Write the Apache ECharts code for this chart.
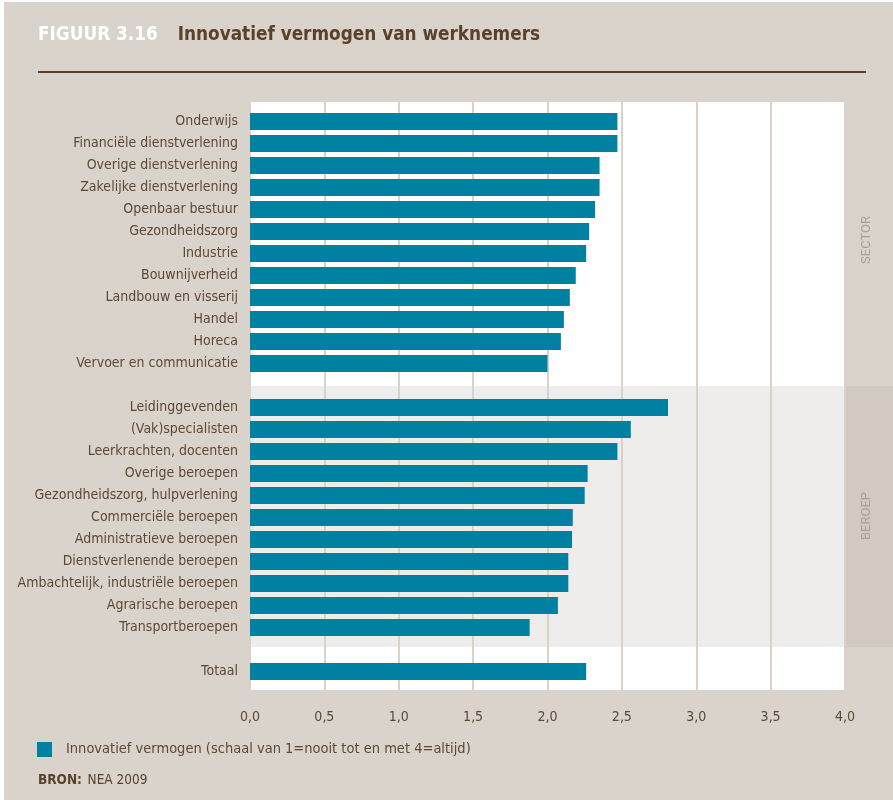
<!DOCTYPE html>
<html>
<head>
<meta charset="utf-8">
<script src="https://cdn.jsdelivr.net/npm/echarts@6/dist/echarts.min.js"></script>
<style>
html,body{margin:0;padding:0;background:#fff;}
#c{width:893px;height:800px;}
</style>
</head>
<body>
<div id="c"></div>
<script>
const sectorCats = ['Onderwijs','Financiële dienstverlening','Overige dienstverlening','Zakelijke dienstverlening','Openbaar bestuur','Gezondheidszorg','Industrie','Bouwnijverheid','Landbouw en visserij','Handel','Horeca','Vervoer en communicatie'];
const sectorVals = [2.47,2.47,2.35,2.35,2.32,2.28,2.26,2.19,2.15,2.11,2.09,2.00];
const beroepCats = ['Leidinggevenden','(Vak)specialisten','Leerkrachten, docenten','Overige beroepen','Gezondheidszorg, hulpverlening','Commerciële beroepen','Administratieve beroepen','Dienstverlenende beroepen','Ambachtelijk, industriële beroepen','Agrarische beroepen','Transportberoepen'];
const beroepVals = [2.81,2.56,2.47,2.27,2.25,2.17,2.165,2.14,2.14,2.07,1.88];
const totaalCats = ['Totaal'];
const totaalVals = [2.26];
const xTicks = [0,0.5,1,1.5,2,2.5,3,3.5,4];
const seriesName = 'Innovatief vermogen (schaal van 1=nooit tot en met 4=altijd)';

const categories = [...sectorCats, ' ', ...beroepCats, '  ', ...totaalCats];
const values = [...sectorVals, null, ...beroepVals, null, ...totaalVals];

const FONT = '"Liberation Sans Narrow","DejaVu Sans Condensed",sans-serif';
const BROWN = '#5c4934';
const TEAL = '#0081a1';
const GRIDC = '#d9d2cb';

const chart = echarts.init(document.getElementById('c'), null, {renderer:'canvas'});
chart.setOption({
  backgroundColor: '#dad3cc',
  animation: false,
  textStyle: {fontFamily: FONT},
  title: [
    {
      left: 38, top: 26, padding: 0,
      text: '{a|FIGUUR 3.16}{b|Innovatief vermogen van werknemers}',
      textStyle: {
        rich: {
          a: {fontFamily: FONT, fontWeight: 'bold', fontSize: 18.8, color: '#ffffff', padding: [0, 20, 0, 0]},
          b: {fontFamily: FONT, fontWeight: 'bold', fontSize: 18.8, color: '#5a4129'}
        }
      }
    },
    {
      left: 38, top: 771, padding: 0,
      text: '{a|BRON:} {b|NEA 2009}',
      textStyle: {
        rich: {
          a: {fontFamily: FONT, fontWeight: 'bold', fontSize: 13.5, color: '#5a4129'},
          b: {fontFamily: FONT, fontWeight: 'normal', fontSize: 13.5, color: '#5a4129'}
        }
      }
    }
  ],
  legend: {
    left: 37, top: 742, padding: 0,
    icon: 'rect', itemWidth: 15, itemHeight: 15,
    data: [seriesName],
    textStyle: {fontFamily: FONT, fontSize: 14.5, color: BROWN, padding: [0, 0, 0, 9]}
  },
  grid: [
    {left: 250, right: 48, top: 110.5, height: 572, containLabel: false},
    {left: 250, right: 48, top: 102, bottom: 110, containLabel: false}
  ],
  xAxis: [
    {gridIndex: 0, type: 'value', min: 0, max: 4, interval: 0.5, show: false},
    {
      gridIndex: 1, type: 'value', min: 0, max: 4, interval: 0.5,
      axisLine: {show: false}, axisTick: {show: false},
      splitLine: {show: true, lineStyle: {color: GRIDC, width: 2}},
      axisLabel: {
        margin: 20, color: BROWN, fontFamily: FONT, fontSize: 14,
        formatter: v => v.toFixed(1).replace('.', ',')
      }
    }
  ],
  yAxis: [
    {
      gridIndex: 0, type: 'category', data: categories, inverse: true,
      axisLine: {show: false}, axisTick: {show: false}, splitLine: {show: false},
      axisLabel: {margin: 12, color: BROWN, fontFamily: FONT, fontSize: 14}
    },
    {gridIndex: 1, type: 'value', show: false, min: 0, max: 1}
  ],
  series: [{
    name: seriesName, type: 'bar', xAxisIndex: 0, yAxisIndex: 0,
    data: values, barWidth: 17, itemStyle: {color: TEAL}, z: 5
  }],
  graphic: [
    {type: 'rect', z: -20, shape: {x: 0, y: 0, width: 893, height: 2}, style: {fill: '#ffffff'}},
    {type: 'rect', z: -20, shape: {x: 0, y: 0, width: 4, height: 800}, style: {fill: '#ffffff'}},
    {type: 'rect', z: -20, shape: {x: 251, y: 102, width: 594, height: 588}, style: {fill: '#ffffff'}},
    {type: 'rect', z: -19, shape: {x: 251, y: 386, width: 594, height: 261}, style: {fill: '#efedeb'}},
    {type: 'rect', z: -19, shape: {x: 845, y: 386, width: 48, height: 261}, style: {fill: '#d2c9c2'}},
    {type: 'line', z: 10, shape: {x1: 38, y1: 72, x2: 866, y2: 72}, style: {stroke: '#5a4129', lineWidth: 2}},
    {type: 'text', z: 10, x: 867, y: 240, rotation: Math.PI / 2,
      style: {text: 'SECTOR', fill: '#aba094', font: '13px Roboto, "Liberation Sans", sans-serif', textAlign: 'center', textVerticalAlign: 'middle'}},
    {type: 'text', z: 10, x: 867, y: 516, rotation: Math.PI / 2,
      style: {text: 'BEROEP', fill: '#aba094', font: '13px Roboto, "Liberation Sans", sans-serif', textAlign: 'center', textVerticalAlign: 'middle'}}
  ]
});
</script>
</body>
</html>
